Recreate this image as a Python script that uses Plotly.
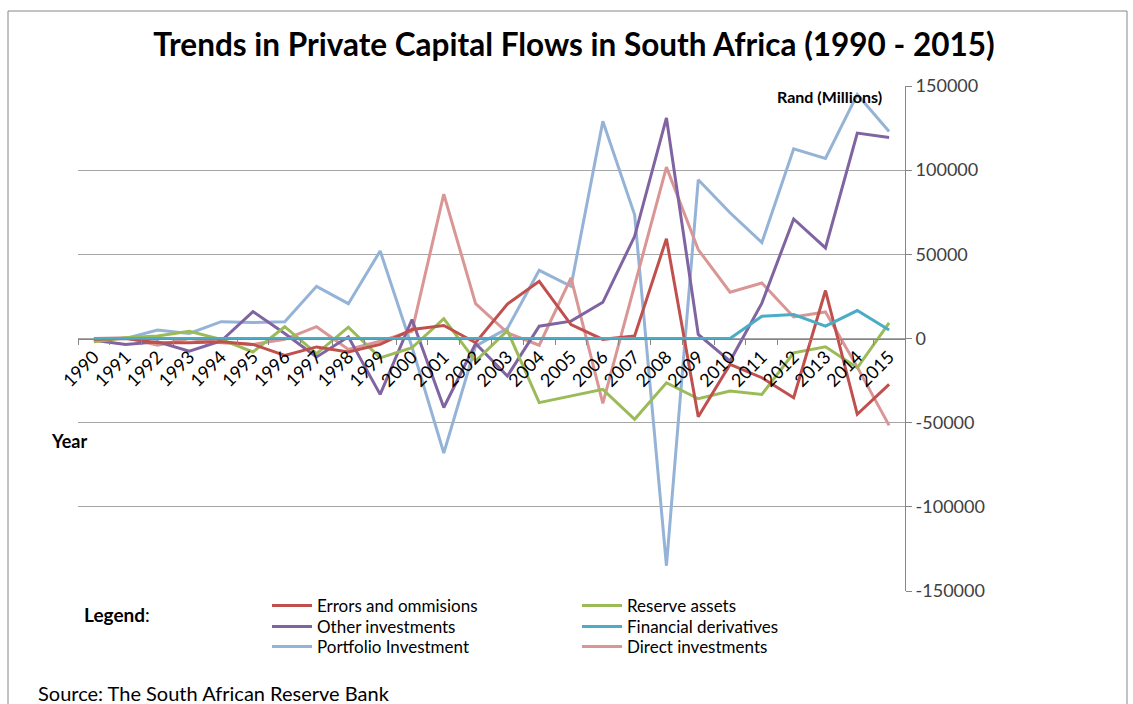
import plotly.graph_objects as go

years = [str(y) for y in range(1990, 2016)]

errors_omissions = [-500, 0, -2500, -2500, -2000, -3500, -10000, -5000, -8000, -3500,
                    5300, 7700, -2500, 20500, 34000, 8300, -500, 1500, 59300, -46500,
                    -15400, -23300, -35200, 28500, -45000, -27300]
reserve_assets = [-2000, 500, 1500, 4300, -500, -8000, 7000, -9000, 6700, -11500,
                  -5500, 11800, -13400, 4700, -38100, -34200, -30200, -48000, -26300, -35800,
                  -31200, -33200, -8500, -4900, -17400, 9300]
other_investments = [-1000, -3500, -2000, -7500, -1500, 16000, 3000, -11000, 1000, -33200,
                     11300, -41000, -3000, -22300, 7300, 10300, 21500, 60700, 131000, 2400,
                     -13400, 21000, 71000, 53800, 122000, 119400]
financial_derivatives = [0, 0, 0, 0, 0, 0, 0, 0, 0, 0,
                         0, 0, 0, 0, 0, 0, 0, 0, 0, 0,
                         0, 13200, 14200, 7300, 16600, 5000]
portfolio_investment = [0, 0, 5000, 3000, 10000, 9500, 10000, 31000, 20700, 52000,
                        -5000, -68000, -4500, 6000, 40500, 31000, 129000, 73500, -135000, 94300,
                        74700, 57000, 112700, 107000, 145000, 123000]
direct_investments = [0, 500, -4000, 0, -2500, -3500, -500, 7000, -6500, -1600,
                      4300, 85800, 20700, 3400, -4000, 36000, -38500, 31000, 101800, 52800,
                      27500, 33000, 12800, 15800, -17000, -51600]

y_ticks = [150000, 100000, 50000, 0, -50000, -100000, -150000]

series_names = ["Errors and ommisions", "Reserve assets", "Other investments",
                "Financial derivatives", "Portfolio Investment", "Direct investments"]
series_values = [errors_omissions, reserve_assets, other_investments,
                 financial_derivatives, portfolio_investment, direct_investments]
series_colors = ["#C0504D", "#9BBB59", "#8064A2", "#4BACC6", "#95B3D7", "#D99694"]

FONT = "Lato, 'Open Sans', sans-serif"

# plot area in pixels
L, R, T, B = 78, 905, 86, 591
W_PA, H_PA = R - L, B - T


def px_x(p):
    return (p - L) / W_PA


def px_y(p):
    return 1 - (p - T) / H_PA


# legend grid: two columns, three rows (each entry has its own legend box)
legend_cols = [267, 577]
legend_rows = [606, 627, 647]

fig = go.Figure()
draw_order = [4, 5, 2, 1, 0, 3]
for i in draw_order:
    leg_id = "legend" if i == 0 else f"legend{i + 1}"
    fig.add_trace(go.Scatter(
        x=years, y=series_values[i], name=series_names[i], mode="lines",
        line=dict(color=series_colors[i], width=3),
        legend=leg_id,
    ))

legend_layout = {}
for i in range(6):
    key = "legend" if i == 0 else f"legend{i + 1}"
    legend_layout[key] = dict(
        x=px_x(legend_cols[i % 2]), y=px_y(legend_rows[i // 2]),
        xanchor="left", yanchor="middle", orientation="v",
        font=dict(size=17, family=FONT, color="#000000"),
        itemwidth=40, bgcolor="rgba(0,0,0,0)",
    )

fig.update_layout(
    width=1133, height=704,
    margin=dict(l=L, r=1133 - R, t=T, b=704 - B),
    paper_bgcolor="white", plot_bgcolor="white",
    font=dict(family=FONT, color="#000000", size=15),
    title=dict(
        text="<b>Trends in Private Capital Flows in South Africa (1990 - 2015)</b>",
        x=574 / 1133, xref="container", xanchor="center",
        y=1 - 45 / 704, yref="container", yanchor="middle",
        font=dict(size=31.5, family=FONT, color="#000000"),
    ),
    showlegend=True,
    **legend_layout,
)

fig.update_xaxes(
    type="category", range=[-0.5, len(years) - 0.5],
    anchor="free", position=0.5,
    showline=True, linecolor="#868686", linewidth=1,
    ticks="outside", tickson="boundaries", ticklen=5, tickcolor="#868686",
    tickangle=-45, tickfont=dict(size=18, family=FONT, color="#000000"),
    showgrid=False, zeroline=False,
)
fig.update_yaxes(
    range=[-150000, 150000], side="right",
    tickvals=y_ticks, ticktext=[str(v) for v in y_ticks],
    showline=True, linecolor="#868686", linewidth=1,
    ticks="outside", ticklen=6, tickcolor="#868686",
    showgrid=True, gridcolor="#A6A6A6", gridwidth=1,
    zeroline=False,
    tickfont=dict(size=18, family=FONT, color="#404040"),
)

fig.add_annotation(text="<b>Rand (Millions)</b>", xref="paper", yref="paper",
                   x=px_x(884), y=px_y(96), xanchor="right", yanchor="middle",
                   showarrow=False, font=dict(size=16, family=FONT, color="#000000"))
fig.add_annotation(text="<b>Year</b>", xref="paper", yref="paper",
                   x=px_x(49), y=px_y(441), xanchor="left", yanchor="middle",
                   showarrow=False, font=dict(size=18, family=FONT, color="#000000"))
fig.add_annotation(text="<b>Legend</b>:", xref="paper", yref="paper",
                   x=px_x(82), y=px_y(614), xanchor="left", yanchor="middle",
                   showarrow=False, font=dict(size=19, family=FONT, color="#000000"))
fig.add_annotation(text="Source: The South African Reserve Bank", xref="paper", yref="paper",
                   x=px_x(36), y=px_y(693), xanchor="left", yanchor="middle",
                   showarrow=False, font=dict(size=20, family=FONT, color="#000000"))

# outer frame of the chart object
fig.add_shape(type="rect", xref="paper", yref="paper",
              x0=px_x(8), x1=px_x(1127), y0=px_y(712), y1=px_y(11),
              line=dict(color="#868686", width=1), fillcolor="rgba(0,0,0,0)", layer="below")

fig.write_html("out.html")
